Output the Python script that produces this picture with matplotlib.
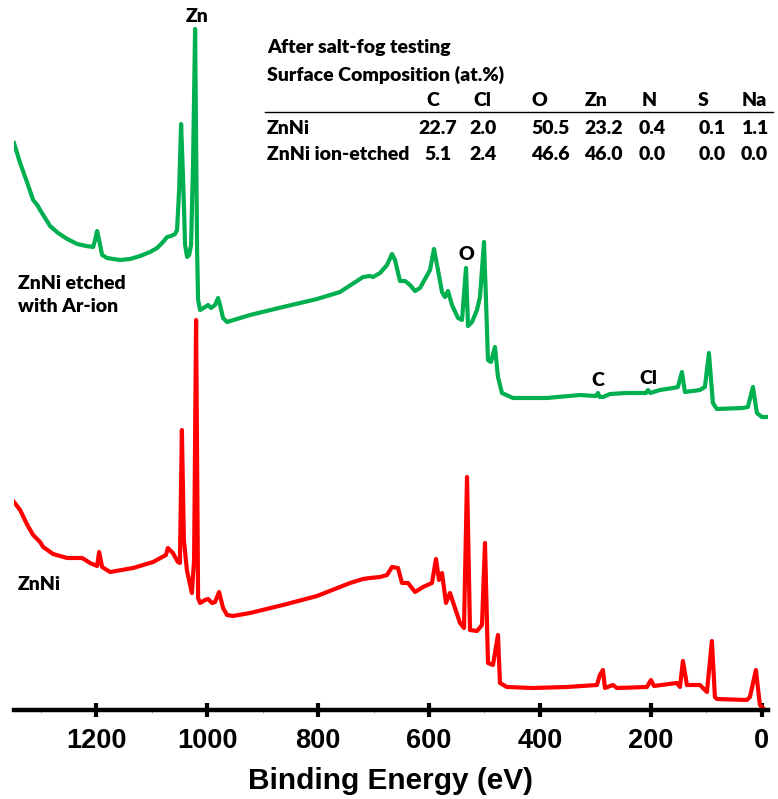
import matplotlib
matplotlib.use("Agg")
import matplotlib.pyplot as plt
import numpy as np

W, H = 778, 799

# ---- data (binding energy in eV, intensity in arbitrary units) ----
etched_energy = [1348, 1337, 1324, 1313.5, 1306, 1301, 1292, 1283, 1268.5, 1252, 1234, 1218, 1205.4,
                 1201.8, 1198.2, 1194.6, 1189.2, 1180.2, 1156.8, 1138.7, 1120.7, 1102.7, 1090.1, 1079.3,
                 1072.1, 1064.9, 1057.7, 1054.1, 1050.4, 1046.8, 1043.2, 1039.6, 1036.0, 1032.4, 1028.8,
                 1025.2, 1021.6, 1018.0, 1016.2, 1012.6, 1003.6, 998.2, 992.8, 985.6, 980.2, 976.6, 971.2,
                 964.0, 922.5, 863.1, 801.8, 760.4, 724.3, 718.9, 706.3, 700.9, 688.3, 675.7, 666.7, 661.3,
                 652.3, 643.2, 634.2, 625.2, 616.2, 598.2, 591.0, 583.8, 576.6, 571.2, 565.8, 558.6, 547.7,
                 540.5, 533.3, 529.7, 522.5, 513.5, 508.1, 500.9, 497.3, 493.7, 488.3, 481.1, 475.7, 468.5,
                 448.6, 387.4, 327.9, 299, 295.5, 292, 286.5, 273.9, 243.2, 209, 205.4, 201, 183.8, 160.4,
                 151.4, 144.1, 138.7, 111.7, 102.7, 95.5, 88.3, 81.1, 34.2, 25.2, 16.2, 9.0, 0.0, -9.0]
etched_counts = [567, 547, 527, 510, 505, 500, 492, 484, 477, 471, 466, 464, 463,
                 470, 479, 470, 455, 452, 450, 451, 454, 458, 462, 468,
                 473, 474, 476, 480, 520, 586, 530, 465, 453, 455, 465,
                 550, 681, 460, 410, 400, 403, 405, 402, 405, 412, 405, 392,
                 388, 395, 403, 411, 418, 431, 433, 434, 433, 437, 445, 456, 450,
                 429, 429, 425, 419, 422, 440, 461, 440, 418, 413, 419, 405, 392,
                 390, 442, 384, 388, 400, 413, 468, 410, 350, 348, 363, 333, 317,
                 312, 312, 315, 314, 317, 313, 313, 316, 317, 317, 320, 317, 320, 322,
                 323, 338, 318, 320, 323, 357, 307, 301, 302, 303, 323, 297, 293, 293]

asis_energy = [1348, 1337, 1324, 1313.5, 1301, 1295.5, 1277.5, 1252.3, 1225.2, 1210.8, 1198.2, 1194.6,
               1189.2, 1174.8, 1133.3, 1097.3, 1074.2, 1070.6, 1061.6, 1052.6, 1049.0, 1045.4, 1041.8,
               1036.4, 1027.4, 1023.4, 1019.8, 1016.2, 1012.6, 1003.6, 998.2, 991.0, 985.6, 978.4, 971.2,
               964.0, 953.2, 922.5, 863.1, 801.8, 742.3, 718.9, 706.3, 688.3, 675.7, 666.7, 655.9, 648.7,
               637.8, 625.2, 610.8, 594.6, 587.4, 582.0, 576.6, 569.4, 562.2, 556.8, 544.1, 536.9, 531.5,
               526.1, 513.5, 504.5, 499.1, 493.7, 484.7, 475.7, 472.1, 459.5, 412.6, 351.4, 297.3, 292.1,
               286.5, 282.9, 268.5, 261.3, 207.2, 200.0, 194.6, 153.2, 147.7, 142.3, 135.1, 111.7, 99.1,
               90.1, 84.7, 81.1, 27.0, 21.6, 10.8, 3.6, -1.8]
asis_counts = [208, 200, 185, 175, 168, 163, 156, 152, 152, 147, 144, 158,
               143, 138, 142, 148, 155, 162, 157, 148, 147, 280, 170,
               140, 117, 150, 390, 112, 107, 110, 111, 107, 108, 118, 102,
               95, 94, 97, 105, 114, 127, 131, 132, 133, 135, 143, 142, 127,
               127, 118, 123, 127, 151, 130, 137, 107, 117, 108, 87, 82, 233,
               80, 79, 85, 167, 47, 45, 75, 27, 23, 22, 23, 25, 35,
               40, 22, 25, 22, 23, 30, 24, 27, 23, 49, 25, 25, 18,
               69, 13, 11, 10, 13, 40, 5, 2]

tick_values = [1200, 1000, 800, 600, 400, 200, 0]
tick_labels = ["1200", "1000", "800", "600", "400", "200", "0"]

table_title = ["After salt-fog testing", "Surface Composition (at.%)"]
elements = ["C", "Cl", "O", "Zn", "N", "S", "Na"]
samples = ["ZnNi", "ZnNi ion-etched"]
composition = [["22.7", "2.0", "50.5", "23.2", "0.4", "0.1", "1.1"],
               ["5.1", "2.4", "46.6", "46.0", "0.0", "0.0", "0.0"]]

GREEN = "#00B050"
RED = "#FF0000"
LAB_FONT = ["Lato", "DejaVu Sans"]
AX_FONT = ["Liberation Sans", "DejaVu Sans"]

fig = plt.figure(figsize=(W / 100, H / 100), dpi=100)
ax = fig.add_axes([14 / W, (H - 710) / H, (768 - 14) / W, 710 / H])
ax.set_xlim(1348, -11)
ax.set_ylim(0, 710)

ax.plot(etched_energy, etched_counts, color=GREEN, lw=3.0, solid_joinstyle="round")
ax.plot(asis_energy, asis_counts, color=RED, lw=3.0, solid_joinstyle="round")

for s in ["top", "left", "right"]:
    ax.spines[s].set_visible(False)
ax.spines["bottom"].set_linewidth(3.2)
ax.set_yticks([])
ax.set_xticks(tick_values)
ax.set_xticklabels(tick_labels, fontfamily=AX_FONT, fontweight="bold", fontsize=19.5)
ax.set_xticks([1300, 1100, 900, 700, 500, 300, 100], minor=True)
ax.tick_params(axis="x", which="major", direction="inout", length=10, width=3, pad=8)
ax.tick_params(axis="x", which="minor", direction="out", length=2.5, width=0.6, color="#999999")
ax.set_xlabel("Binding Energy (eV)", fontfamily=AX_FONT, fontweight="bold", fontsize=21.5, labelpad=9)

# peak labels
lab = dict(fontfamily=LAB_FONT, fontweight="heavy", fontsize=14, color="black")
ax.text(1018, 693, "Zn", ha="center", va="center", **lab)
ax.text(533, 455, "O", ha="center", va="center", **lab)
ax.text(295, 329, "C", ha="center", va="center", **lab)
ax.text(205, 332, "Cl", ha="center", va="center", **lab)
ax.text(1341, 415, "ZnNi etched\nwith Ar-ion", ha="left", va="center", linespacing=1.4, **lab)
ax.text(1341, 125, "ZnNi", ha="left", va="center", **lab)

# composition table (pixel positions in the figure)
def ftext(px, py, s, ha="left"):
    fig.text(px / W, 1 - py / H, s, ha=ha, va="center", **lab)

ftext(267, 48, table_title[0])
ftext(267, 75, table_title[1])
head_x = [426, 473, 532, 585, 642, 698, 742]
val_x = [415, 469, 531, 584, 639, 699, 741]
for hx, el in zip(head_x, elements):
    ftext(hx, 101, el)
fig.add_artist(plt.Line2D([265 / W, 773 / W], [1 - 112 / H, 1 - 112 / H], color="black", lw=1.0))
row_y = [128, 154]
for ry, name, vals in zip(row_y, samples, composition):
    ftext(267, ry, name)
    for j, (vx, v) in enumerate(zip(val_x, vals)):
        if j == 0:
            ftext(438, ry, v, ha="center")
        else:
            ftext(vx, ry, v)

fig.savefig("out.png", dpi=100)
